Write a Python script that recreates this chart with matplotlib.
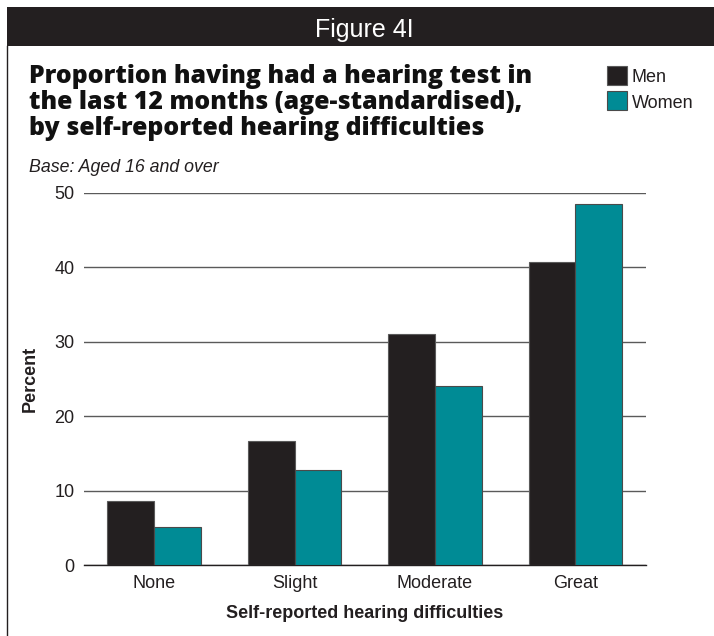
import matplotlib
matplotlib.use("Agg")
import matplotlib.pyplot as plt
from matplotlib.patches import Rectangle
from matplotlib.lines import Line2D
import numpy as np

categories = ["None", "Slight", "Moderate", "Great"]
men = [8.6, 16.7, 31.1, 40.7]
women = [5.1, 12.8, 24.0, 48.5]
series_names = ["Men", "Women"]
yticks = [0, 10, 20, 30, 40, 50]

title_lines = ["Proportion having had a hearing test in",
               "the last 12 months (age-standardised),",
               "by self-reported hearing difficulties"]
subtitle = "Base: Aged 16 and over"
header = "Figure 4I"
xlabel = "Self-reported hearing difficulties"
ylabel = "Percent"

C_MEN = "#231f20"
C_WOMEN = "#008b95"
TXT = "#231f20"
FONT = "Liberation Sans"
TFONT = "Open Sans"

W, H = 714, 636
fig = plt.figure(figsize=(W / 100, H / 100), dpi=100)
fig.patch.set_facecolor("white")

def fx(px):
    return px / W

def fy(py):
    return 1 - py / H

# Header bar
fig.patches.append(Rectangle((fx(6.7), fy(45.7)), 1 - fx(6.7), (45.7 - 7.3) / H,
                             transform=fig.transFigure, facecolor="#231f20",
                             edgecolor="none", zorder=0))
fig.text(fx(364), fy(37.3), header, color="white", fontsize=18, family=FONT,
         ha="center", va="baseline")

# Left border line
fig.lines.append(Line2D([fx(7.2), fx(7.2)], [fy(45.7), 0], transform=fig.transFigure,
                        color="#231f20", lw=1.0))

# Title
r = fig.canvas.get_renderer()
probe = fig.text(0, 0, title_lines[0], fontsize=17, family=TFONT, fontweight=800)
wpx = probe.get_window_extent(r).width
probe.remove()
tsize = min(max(17 * 505 / wpx, 15.5), 18.5)
for line, base in zip(title_lines, [82.7, 109.0, 135.3]):
    fig.text(fx(29.3), fy(base), line, fontsize=tsize, family=TFONT,
             fontweight=800, color="#111111", ha="left", va="baseline")

fig.text(fx(29.3), fy(171.7), subtitle, fontsize=12.8, family=FONT, style="italic",
         color=TXT, ha="left", va="baseline")

# Axes
ax = fig.add_axes([fx(84), fy(565.3), (645.7 - 84) / W, (565.3 - 192.7) / H])
x = np.arange(len(categories))
bw = 1 / 3
ax.bar(x - bw / 2, men, bw, color=C_MEN, edgecolor="#5a5a5a", linewidth=0.8,
       label=series_names[0], zorder=3)
ax.bar(x + bw / 2, women, bw, color=C_WOMEN, edgecolor="#4a4a4a", linewidth=0.8,
       label=series_names[1], zorder=3)
ax.set_xlim(-0.5, len(categories) - 0.5)
ax.set_ylim(0, 50)
ax.set_yticks(yticks)
ax.set_xticks(x)
ax.set_xticklabels(categories)
ax.set_axisbelow(True)
ax.yaxis.grid(True, color="#5a5a5a", linewidth=1.0)
ax.xaxis.grid(False)
for s in ["top", "right", "left"]:
    ax.spines[s].set_visible(False)
ax.spines["bottom"].set_color("#231f20")
ax.spines["bottom"].set_linewidth(1.0)
ax.tick_params(axis="both", length=0, labelsize=13, labelcolor=TXT)
ax.tick_params(axis="y", pad=7)
ax.tick_params(axis="x", pad=7)
for lab in ax.get_xticklabels() + ax.get_yticklabels():
    lab.set_family(FONT)
ax.set_xlabel(xlabel, fontsize=13, fontweight="bold", family=FONT, color=TXT,
              labelpad=9)
ax.set_ylabel(ylabel, fontsize=13, fontweight="bold", family=FONT, color=TXT,
              labelpad=11)

# Legend (drawn as key squares + labels)
colors = [C_MEN, C_WOMEN]
edges = ["#5a5a5a", "#4a4a4a"]
for name, col, ec, top, base in zip(series_names, colors, edges,
                                    [65.7, 90.7], [81.7, 107.5]):
    fig.patches.append(Rectangle((fx(606.7), fy(top + 18.8)), 20 / W, 18.8 / H,
                                 transform=fig.transFigure, facecolor=col,
                                 edgecolor=ec, linewidth=0.8))
    fig.text(fx(631.7), fy(base), name, fontsize=13, family=FONT, color=TXT,
             ha="left", va="baseline")

fig.savefig("out.png", dpi=100, facecolor="white")
